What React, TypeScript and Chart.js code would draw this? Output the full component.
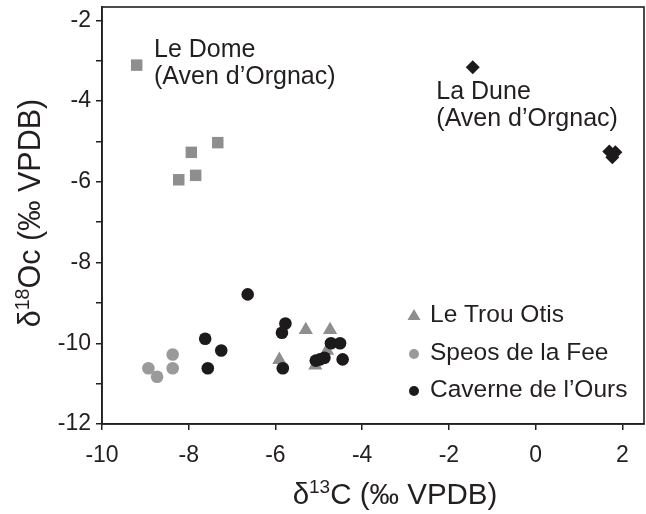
import React, { useEffect, useRef } from 'react';
import { Chart, registerables } from 'chart.js';

Chart.register(...registerables);

// ---- data ----
const domeX = [-9.2, -7.33, -7.94, -7.84, -8.23];
const domeY = [-3.11, -5.03, -5.27, -5.84, -5.95];

const duneX = [-1.45, 1.7, 1.84, 1.77];
const duneY = [-3.16, -5.25, -5.27, -5.39];

const otisX = [-5.3, -4.74, -5.91, -5.08, -4.81];
const otisY = [-9.67, -9.67, -10.41, -10.55, -10.18];

const speosX = [-8.93, -8.73, -8.37, -8.37];
const speosY = [-10.62, -10.83, -10.28, -10.62];

const caverneX = [-6.64, -5.77, -5.85, -7.62, -7.25, -7.56, -5.83, -4.72, -4.51, -4.87, -5.07, -4.45, -4.97];
const caverneY = [-8.79, -9.51, -9.74, -9.89, -10.18, -10.62, -10.62, -10.0, -10.0, -10.36, -10.43, -10.4, -10.4];

const xTicks = [-10, -8, -6, -4, -2, 0, 2];
const yTicks = [-12, -11, -10, -9, -8, -7, -6, -5, -4, -3, -2];

const legendNames = ['Le Trou Otis', 'Speos de la Fee', 'Caverne de l\u2019Ours'];
const domeLabel = ['Le Dome', '(Aven d\u2019Orgnac)'];
const duneLabel = ['La Dune', '(Aven d\u2019Orgnac)'];

// ---- styles ----
const FONT = '"Liberation Sans", Arial, sans-serif';
const TEXT = '#231f20';
const AXIS = '#231f20';
const GRAY = '#8e8e90';
const LIGHT = '#9a9a9a';
const BLACK = '#1c1a1b';

const pts = (xs: number[], ys: number[]) => xs.map((x, i) => ({ x, y: ys[i] }));

function drawRich(ctx: CanvasRenderingContext2D, parts: { t: string; size: number; dy?: number }[], cx: number, cy: number, rot: number) {
  ctx.save();
  ctx.translate(cx, cy);
  ctx.rotate(rot);
  ctx.textBaseline = 'alphabetic';
  ctx.textAlign = 'left';
  let total = 0;
  const widths = parts.map((p) => {
    ctx.font = `${p.size}px ${FONT}`;
    const w = ctx.measureText(p.t).width;
    total += w;
    return w;
  });
  let x = -total / 2;
  parts.forEach((p, i) => {
    ctx.font = `${p.size}px ${FONT}`;
    ctx.fillText(p.t, x, parts[0].size * 0.36 + (p.dy || 0));
    x += widths[i];
  });
  ctx.restore();
}

const overlay = {
  id: 'overlay',
  afterDraw(chart: any) {
    const { ctx, chartArea: a, scales } = chart;
    ctx.save();
    ctx.strokeStyle = AXIS;
    ctx.lineWidth = 1.6;
    ctx.strokeRect(a.left, a.top, a.right - a.left, a.bottom - a.top);

    ctx.fillStyle = TEXT;
    ctx.font = `25px ${FONT}`;
    ctx.textBaseline = 'middle';
    ctx.textAlign = 'left';
    const anns = [
      { lines: domeLabel, x: -8.8, y: -2.75 },
      { lines: duneLabel, x: -2.29, y: -3.79 },
    ];
    anns.forEach((an) => {
      const x = scales.x.getPixelForValue(an.x);
      const y = scales.y.getPixelForValue(an.y);
      an.lines.forEach((l, i) => ctx.fillText(l, x, y + i * 27));
    });

    // legend
    ctx.font = `24.5px ${FONT}`;
    const lx = a.right - 214;
    const ys = [a.bottom - 109, a.bottom - 71, a.bottom - 34];
    legendNames.forEach((n, i) => {
      ctx.fillStyle = TEXT;
      ctx.fillText(n, lx, ys[i]);
      const mx = lx - 16;
      const my = ys[i];
      if (i === 0) {
        ctx.fillStyle = GRAY;
        ctx.beginPath();
        ctx.moveTo(mx, my - 6);
        ctx.lineTo(mx + 6.5, my + 5);
        ctx.lineTo(mx - 6.5, my + 5);
        ctx.closePath();
        ctx.fill();
      } else {
        ctx.fillStyle = i === 1 ? LIGHT : BLACK;
        ctx.beginPath();
        ctx.arc(mx, my + 1, 5, 0, Math.PI * 2);
        ctx.fill();
      }
    });

    // axis titles
    ctx.fillStyle = TEXT;
    drawRich(ctx, [
      { t: '\u03b4', size: 29.5 },
      { t: '13', size: 19, dy: -11 },
      { t: 'C (\u2030 VPDB)', size: 29.5 },
    ], 395, 493, 0);
    drawRich(ctx, [
      { t: '\u03b4', size: 30.5 },
      { t: '18', size: 19.5, dy: -11 },
      { t: 'Oc (\u2030 VPDB)', size: 30.5 },
    ], 29, 213, -Math.PI / 2);
    ctx.restore();
  },
};

export default function App() {
  const ref = useRef<HTMLCanvasElement>(null);
  useEffect(() => {
    const tickFont = { family: FONT, size: 23 };
    const chart = new Chart(ref.current!, {
      type: 'scatter',
      data: {
        datasets: [
          { label: legendNames[2], data: pts(caverneX, caverneY), pointStyle: 'circle', pointRadius: 6.3, backgroundColor: BLACK, borderColor: BLACK, borderWidth: 0 },
          { label: legendNames[1], data: pts(speosX, speosY), pointStyle: 'circle', pointRadius: 6.3, backgroundColor: LIGHT, borderColor: LIGHT, borderWidth: 0 },
          { label: legendNames[0], data: pts(otisX, otisY), pointStyle: 'triangle', pointRadius: 8.2, backgroundColor: GRAY, borderColor: GRAY, borderWidth: 0 },
          { label: 'Le Dome', data: pts(domeX, domeY), pointStyle: 'rect', pointRadius: 8.1, backgroundColor: GRAY, borderColor: GRAY, borderWidth: 0 },
          { label: 'La Dune', data: pts(duneX, duneY), pointStyle: 'rectRot', pointRadius: 7, backgroundColor: BLACK, borderColor: BLACK, borderWidth: 0 },
        ],
      },
      options: {
        animation: false,
        responsive: true,
        maintainAspectRatio: false,
        layout: { autoPadding: false, padding: { top: 7, right: 2, left: 0, bottom: 0 } },
        plugins: { legend: { display: false }, tooltip: { enabled: false } },
        scales: {
          x: {
            type: 'linear',
            min: -10,
            max: 2.5,
            afterBuildTicks: (s: any) => { s.ticks = xTicks.map((v) => ({ value: v })); },
            afterFit: (s: any) => { s.height = 90; s.paddingLeft = 0; s.paddingRight = 0; },
            ticks: { font: tickFont, color: TEXT, padding: 12, autoSkip: false, maxRotation: 0, callback: (v: any) => String(v) },
            grid: { display: true, drawOnChartArea: false, drawTicks: true, tickLength: 6, color: AXIS, lineWidth: 1.5 },
            border: { display: true, color: AXIS, width: 1.6 },
          },
          y: {
            type: 'linear',
            min: -12,
            max: -1.67,
            afterBuildTicks: (s: any) => { s.ticks = yTicks.map((v) => ({ value: v })); },
            afterFit: (s: any) => { s.width = 102; s.paddingTop = 0; s.paddingBottom = 0; },
            ticks: { font: tickFont, color: TEXT, padding: 5, autoSkip: false, callback: (v: any) => (Number(v) % 2 === 0 ? String(v) : '') },
            grid: { display: true, drawOnChartArea: false, drawTicks: true, tickLength: 6, color: AXIS, lineWidth: 1.5 },
            border: { display: true, color: AXIS, width: 1.6 },
          },
        },
      },
      plugins: [overlay],
    } as any);
    return () => chart.destroy();
  }, []);
  return (
    <div style={{ position: 'absolute', left: 0, top: 0, width: 646, height: 514, background: '#fff' }}>
      <canvas ref={ref} />
    </div>
  );
}
